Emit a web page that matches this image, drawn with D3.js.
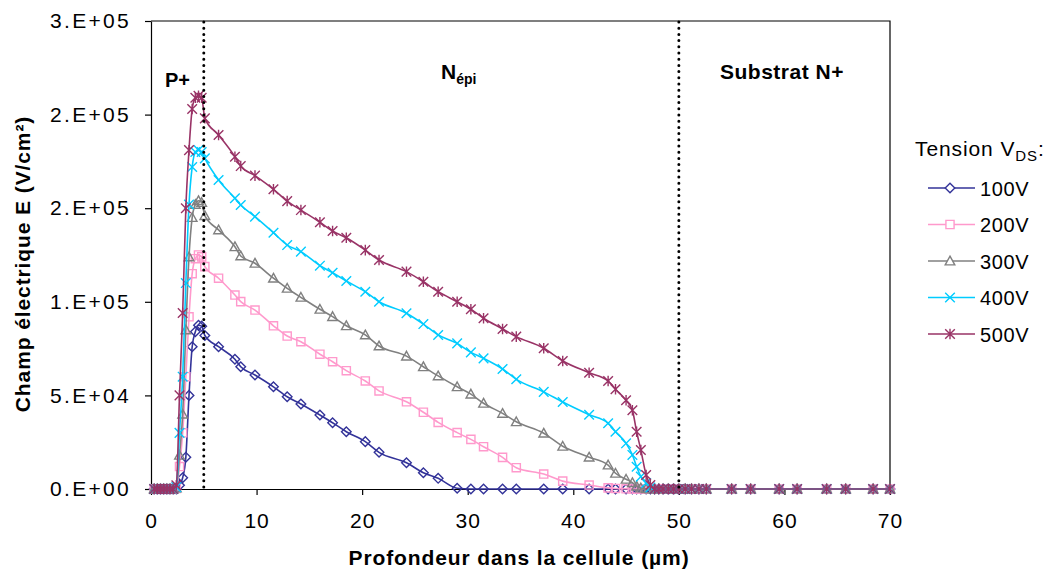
<!DOCTYPE html>
<html><head><meta charset="utf-8">
<script src="https://cdn.jsdelivr.net/npm/d3@7"></script>
<style>
body{margin:0;background:#fff}
svg{display:block}
text{font-family:"Liberation Sans",Arial,sans-serif;fill:#000}
</style>
</head><body>
<svg id="chart" width="1052" height="573"></svg>
<script>
// ---------- DATA ----------
const depth = [0.3,0.6,0.9,1.2,1.5,1.8,2.1,2.4,
  2.7,3.0,3.3,3.6,3.9,4.2,4.5,4.8,5.1,
  6.4,7.95,8.5,9.85,
  11.6,12.9,14.2,16.0,17.2,18.5,20.3,21.6,24.2,25.8,27.2,29.0,30.3,31.5,33.3,34.6,37.2,39.0,41.5,
  43.3,44.0,45.0,45.6,46.0,46.4,46.9,47.3,
  47.7,48.1,48.5,49.0,49.5,50.0,50.6,51.2,51.9,52.6,
  55.0,56.8,59.5,61.2,64.0,65.8,68.4,70.0];

const tensions = ["100V","200V","300V","400V","500V"];

const e100 = [0,0,0,0,0,0,0,0,
  2000,6000,17000,50000,76000,84000,87500,87000,82000,
  76000,69300,65300,60900,
  54600,49300,45400,39500,35400,30600,25300,19600,14000,8700,5700,400,0,0,0,0,0,0,0,
  0,0,0,0,0,0,0,0,
  0,0,0,0,0,0,0,0,0,0,
  0,0,0,0,0,0,0,0];

const e200 = [0,0,0,0,0,0,0,300,
  12000,30000,60000,92000,115000,123000,125000,124000,118800,
  112600,103600,100100,95600,
  87200,81700,78700,72000,68000,63200,57700,52400,46600,41000,35600,30100,26500,22600,16900,11400,8000,4200,2100,
  600,300,100,0,0,0,0,0,
  0,0,0,0,0,0,0,0,0,0,
  0,0,0,0,0,0,0,0];

const e300 = [0,0,0,0,0,0,0,500,
  18000,40000,85000,124000,145000,152000,154000,153000,146000,
  138400,129400,124500,120600,
  112600,107200,102400,96000,92100,87200,82300,76400,71000,65300,60400,54600,50700,45800,40400,35900,29800,22800,17000,
  12800,8400,5200,3400,1500,500,100,0,
  0,0,0,0,0,0,0,0,0,0,
  0,0,0,0,0,0,0,0];

const e400 = [0,0,0,0,0,0,0,1000,
  30000,60000,110000,152000,172000,180000,181000,180000,176600,
  165100,155300,151700,145500,
  136900,130300,126800,119300,115500,111100,105400,100000,93900,88100,82300,77800,73000,69800,64100,58600,51900,46500,39700,
  35100,30600,24400,18200,11900,6600,3200,800,
  0,0,0,0,0,0,0,0,0,0,
  0,0,0,0,0,0,0,0];

const e500 = [0,0,0,0,0,0,0,2000,
  50000,94000,150000,181000,203000,209000,210000,209000,198000,
  189100,177500,172500,167400,
  160100,153800,149000,142500,137800,134200,127600,122300,116100,110700,105400,100000,96000,91200,85500,81400,75200,68400,62100,
  57700,53300,47400,42100,30600,20800,7500,2100,
  0,0,0,0,0,0,0,0,0,0,
  0,0,0,0,0,0,0,0];

const xTickValues = [0,10,20,30,40,50,60,70];
const yTickValues = [0,50000,100000,150000,200000,250000];
const yTickLabels = ["0.E+00","5.E+04","1.E+05","2.E+05","2.E+05","3.E+05"];
const boundaries = [5,50];

// ---------- STYLE ----------
const colors = ["#333399","#FF99CC","#808080","#00CCFF","#993366"];
const shapes = ["diamond","square","triangle","cross","star"];
const seriesValues = [e100,e200,e300,e400,e500];

const L = 151, R = 890, T = 21, B = 489;
const svg = d3.select("#chart");

const x = d3.scaleLinear().domain([0,70]).range([L,R]);
const y = d3.scaleLinear().domain([0,250000]).range([B,T]);

// frame (top & right)
svg.append("path")
  .attr("d", `M${L},${T}H${R}V${B}`)
  .attr("fill","none").attr("stroke","#000").attr("stroke-width",1.2);

// axes
const yAxis = svg.append("g").attr("transform",`translate(${L},0)`)
  .call(d3.axisLeft(y).tickValues(yTickValues)
    .tickFormat((d,i)=>yTickLabels[i]).tickSize(6).tickSizeOuter(0).tickPadding(14));
const xAxis = svg.append("g").attr("transform",`translate(0,${B})`)
  .call(d3.axisBottom(x).tickValues(xTickValues).tickSize(6).tickSizeOuter(0).tickPadding(18));
[xAxis,yAxis].forEach(g=>{
  g.attr("font-family",null).attr("font-size",null);
  g.selectAll("text").attr("font-size",21).attr("fill","#000").style("letter-spacing","1px");
  g.selectAll("path,line").attr("stroke","#000").attr("stroke-width",1.2);
});
yAxis.selectAll("text").style("letter-spacing","2.3px");

// marker shapes
function markerPath(shape, s){
  switch(shape){
    case "diamond": return `M0,${-s}L${s},0L0,${s}L${-s},0Z`;
    case "square": { const h=s*0.85; return `M${-h},${-h}H${h}V${h}H${-h}Z`; }
    case "triangle": return `M0,${-s}L${s},${s*0.8}L${-s},${s*0.8}Z`;
    case "cross": return `M${-s},${-s}L${s},${s}M${-s},${s}L${s},${-s}`;
    case "star": return `M${-s},${-s}L${s},${s}M${-s},${s}L${s},${-s}M0,${-s*1.1}V${s*1.1}`;
  }
}

const line = d3.line().x(d=>x(d[0])).y(d=>y(d[1])).curve(d3.curveMonotoneX);

seriesValues.forEach((vals,i)=>{
  const pts = depth.map((d,j)=>[d, vals[j]]);
  const g = svg.append("g");
  g.append("path").datum(pts).attr("d",line)
    .attr("fill","none").attr("stroke",colors[i]).attr("stroke-width",1.6);
  g.selectAll("path.m").data(pts).enter().append("path").attr("class","m")
    .attr("transform",d=>`translate(${x(d[0])},${y(d[1])})`)
    .attr("d",markerPath(shapes[i],4.8))
    .attr("fill","none").attr("stroke",colors[i]).attr("stroke-width",1.4);
});

// dotted boundaries
boundaries.forEach(b=>{
  svg.append("line").attr("x1",x(b)).attr("x2",x(b)).attr("y1",T+1).attr("y2",B)
    .attr("stroke","#000").attr("stroke-width",3).attr("stroke-linecap","round")
    .attr("stroke-dasharray","0,6.2");
});

// region labels
svg.append("text").attr("x",165).attr("y",87).attr("font-size",20).attr("font-weight","bold").text("P+");
const ne = svg.append("text").attr("x",441).attr("y",79).attr("font-size",21).attr("font-weight","bold");
ne.append("tspan").text("N");
ne.append("tspan").attr("dy",5).attr("font-size",14).text("épi");
svg.append("text").attr("x",720).attr("y",79).attr("font-size",21).attr("font-weight","bold")
  .style("letter-spacing","0.5px").text("Substrat N+");

// axis titles
svg.append("text").attr("x",519).attr("y",565).attr("text-anchor","middle")
  .attr("font-size",21).attr("font-weight","bold").style("letter-spacing","0.9px")
  .text("Profondeur dans la cellule (µm)");
svg.append("text").attr("transform","translate(30,264) rotate(-90)").attr("text-anchor","middle")
  .attr("font-size",21).attr("font-weight","bold").style("letter-spacing","0.9px")
  .text("Champ électrique E (V/cm²)");

// legend
const lt = svg.append("text").attr("x",915).attr("y",156).attr("font-size",21).style("letter-spacing","0.9px");
lt.append("tspan").text("Tension V");
lt.append("tspan").attr("dy",5).attr("font-size",15).text("DS");
lt.append("tspan").attr("dy",-5).text(":");

tensions.forEach((t,i)=>{
  const cy = 188 + i*36.5;
  const g = svg.append("g");
  g.append("line").attr("x1",928).attr("x2",975).attr("y1",cy).attr("y2",cy)
    .attr("stroke",colors[i]).attr("stroke-width",1.6);
  g.append("path").attr("transform",`translate(950,${cy})`).attr("d",markerPath(shapes[i],4.8))
    .attr("fill",shapes[i]==="cross"||shapes[i]==="star"?"none":"#fff")
    .attr("stroke",colors[i]).attr("stroke-width",1.4);
  g.append("text").attr("x",980).attr("y",cy+7.5).attr("font-size",20).style("letter-spacing","0.6px").text(t);
});
</script>
</body></html>
